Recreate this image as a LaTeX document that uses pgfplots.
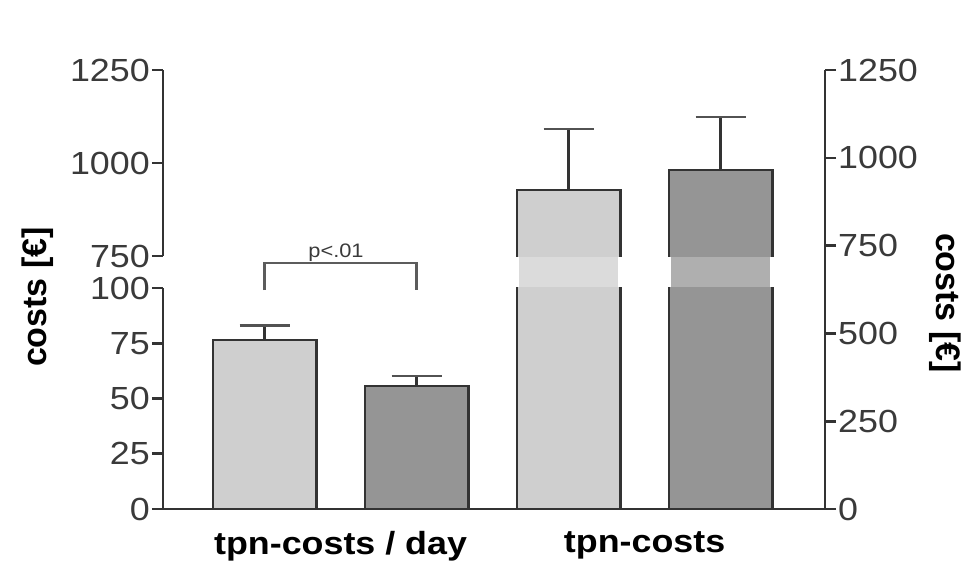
\documentclass[border=0pt]{standalone}
\usepackage{pgfplots}
\pgfplotsset{compat=1.18}
\usepackage{fontspec}
\setmainfont{Liberation Sans}
\newfontfamily\wfont{Liberation Sans}[FakeStretch=1.12]
\definecolor{lbar}{HTML}{CFCFCF}
\definecolor{dbar}{HTML}{959595}
\definecolor{axc}{HTML}{333333}
\definecolor{tkc}{HTML}{3A3A3A}
\begin{document}
\begin{tikzpicture}
\pgfplotsset{
  base/.style={scale only axis, width=662pt, xmin=-0.668, xmax=3.687, clip=false,
    axis line style={-, axc, line width=2.6pt},
    every outer x axis line/.append style={-},
    every outer y axis line/.append style={-},
    tick style={axc, line width=2.6pt},
    major tick length=11pt, tick align=outside,
    y tick label style={font=\wfont\fontsize{32}{32}\selectfont, text=tkc, inner sep=2pt},
    /pgf/number format/assume math mode=true,
    /pgf/number format/1000 sep={},
    ybar=0pt, bar shift=0pt, bar width=0.68,
  },
  bstyle/.style={draw=axc, line width=2.6pt,
    error bars/.cd, y dir=plus, y explicit,
    error bar style={line width=2.6pt, axc, solid},
    error mark options={rotate=90, mark size=25pt, line width=2.6pt, draw=axc!85}},
}
\path (0pt,0pt) rectangle (970pt,566pt);
% lower left axis (0-100)
\begin{axis}[at={(163pt,57pt)}, anchor=south west, height=221pt,
  ymin=0, ymax=100, ytick={0,25,50,75,100},
  axis x line=bottom, axis y line=left,
  xtick={0.5,2.5}, xticklabels={tpn-costs / day, tpn-costs},
  x tick label style={font=\wfont\bfseries\fontsize{32}{32}\selectfont, text=black, yshift=-8pt},
  x tick style={draw=none}, base]
\addplot[fill=lbar, bstyle] coordinates {(0,76.5) +- (0,6.5)};
\addplot[fill=dbar, bstyle] coordinates {(1,55.7) +- (0,4.5)};
\draw[axc!80, line width=2.6pt] (axis cs:0,99) -- (axis cs:0,111.3) -- (axis cs:1,111.3) -- (axis cs:1,99);
\node[anchor=base, font=\wfont\fontsize{19.5}{19.5}\selectfont, text=tkc, inner sep=0pt] at (axis cs:0.47,114) {p<.01};
\end{axis}
% upper left axis (750-1250)
\begin{axis}[at={(163pt,310pt)}, anchor=south west, height=186pt,
  ymin=750, ymax=1250, ytick={750,1000,1250},
  axis y line=left, axis x line=none, xtick=\empty, base]
\end{axis}
% right axis (0-1250)
\begin{axis}[at={(163pt,57pt)}, anchor=south west, height=439pt,
  ymin=0, ymax=1250, ytick={0,250,500,750,1000,1250},
  axis y line=right, axis x line=none, xtick=\empty, base]
\addplot[fill=lbar, bstyle] coordinates {(2,908) +- (0,174)};
\addplot[fill=dbar, bstyle] coordinates {(3,965) +- (0,151)};
\draw[white, line width=4pt] (axis cs:1.66,632) -- (axis cs:1.66,718);
\draw[white, line width=4pt] (axis cs:2.34,632) -- (axis cs:2.34,718);
\draw[white, line width=4pt] (axis cs:2.66,632) -- (axis cs:2.66,718);
\draw[white, line width=4pt] (axis cs:3.34,632) -- (axis cs:3.34,718);
\fill[white, opacity=0.25] (axis cs:1.64,632) rectangle (axis cs:3.36,718);
\end{axis}
\node[rotate=90, font=\bfseries\fontsize{34}{34}\selectfont] at (38pt,269pt) {costs [€]};
\node[rotate=-90, font=\bfseries\fontsize{34}{34}\selectfont] at (945pt,263pt) {costs [€]};
\pgfresetboundingbox
\useasboundingbox (0pt,0pt) rectangle (970pt,566pt);
\end{tikzpicture}
\end{document}
